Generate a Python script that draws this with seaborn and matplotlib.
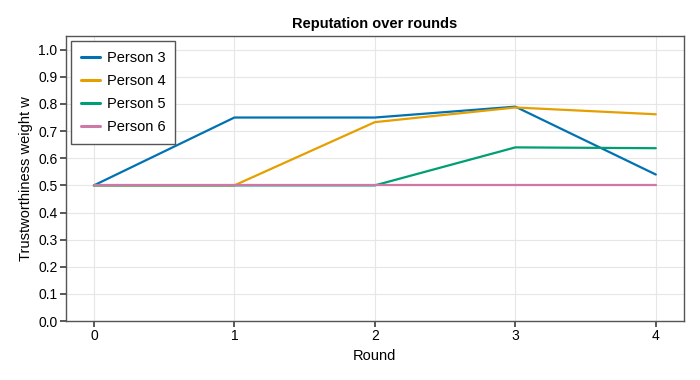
import matplotlib
matplotlib.use("Agg")
import matplotlib.pyplot as plt
import pandas as pd
import seaborn as sns

rounds = [0, 1, 2, 3, 4]
person3 = [0.5, 0.75, 0.75, 0.79, 0.54]
person4 = [0.5, 0.5, 0.733, 0.787, 0.762]
person5 = [0.5, 0.5, 0.5, 0.64, 0.637]
person6 = [0.5, 0.5, 0.5, 0.5, 0.5]
names = ["Person 3", "Person 4", "Person 5", "Person 6"]
colors = ["#0072B2", "#E69F00", "#009E73", "#CC79A7"]

rows = []
for name, vals in zip(names, [person3, person4, person5, person6]):
    for r, v in zip(rounds, vals):
        rows.append({"Round": r, "w": v, "who": name})
df = pd.DataFrame(rows)

sns.set_theme(style="whitegrid")
plt.rcParams["font.family"] = ["Liberation Sans", "DejaVu Sans"]
plt.rcParams["text.color"] = "black"
plt.rcParams["axes.labelcolor"] = "black"
plt.rcParams["xtick.color"] = "black"
plt.rcParams["ytick.color"] = "black"

fig, ax = plt.subplots(figsize=(7, 3.8), dpi=100)
fig.subplots_adjust(left=0.094, right=0.977, top=0.905, bottom=0.155)

sns.lineplot(data=df, x="Round", y="w", hue="who", palette=colors,
             linewidth=1.6, ax=ax)

ax.set_xlim(-0.2, 4.2)
ax.set_ylim(0, 1.05)
ax.set_xticks(rounds)
ax.set_yticks([i / 10 for i in range(11)])
ax.set_yticklabels([f"{i / 10:.1f}" for i in range(11)])
ax.tick_params(labelsize=10, length=4, color="#444444", left=True, bottom=True, pad=2)
ax.grid(color="#e6e6e6", linewidth=0.8)
for s in ax.spines.values():
    s.set_color("#555555")
    s.set_linewidth(1.0)

ax.set_xlabel("Round", fontsize=10.5)
ax.set_ylabel("Trustworthiness weight w", fontsize=10.5)
ax.set_title("Reputation over rounds", fontsize=10.5, fontweight="bold")

leg = ax.legend(loc="upper left", fontsize=10.5, fancybox=False, framealpha=1,
                borderpad=0.7, handlelength=1.3, handletextpad=0.45,
                labelspacing=0.6, borderaxespad=0.35)
leg.get_frame().set_edgecolor("#555555")
leg.get_frame().set_linewidth(1.0)
for line in leg.get_lines():
    line.set_linewidth(2.2)
leg.set_title(None)

plt.savefig("out.png", dpi=100)
plt.close()
